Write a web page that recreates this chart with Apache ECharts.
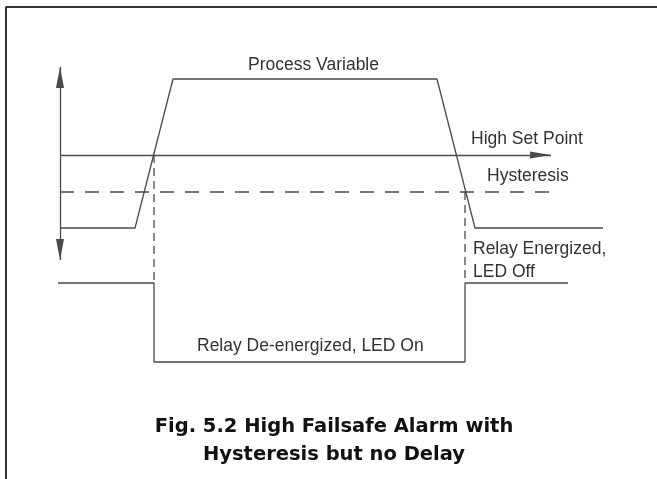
<!DOCTYPE html>
<html>
<head>
<meta charset="utf-8">
<script src="https://cdn.jsdelivr.net/npm/echarts@6/dist/echarts.min.js"></script>
<style>
html,body{margin:0;padding:0;background:#fff;}
#chart{width:657px;height:479px;}
</style>
</head>
<body>
<div id="chart"></div>
<script>
// Diagram units: time along x (0..657), level along y (0..479)
const frameTime  = [6, 6, 657];
const frameLevel = [0, 472, 472];

const pvTime  = [60, 135, 173, 437, 475, 603];
const pvLevel = [251, 251, 400, 400, 251, 251];

const relayTime  = [58, 154, 154, 465, 465, 568];
const relayLevel = [196, 196, 117, 117, 196, 196];

const setPointLevel = 324;
const setPointRange = [60, 551];

const hysteresisLevel = 287;
const hysteresisRange = [60, 552];

const switchOnTime = 154;   // PV crosses set point (relay de-energizes)
const switchOffTime = 465;  // PV crosses hysteresis (relay energizes)
const relayHighLevel = 196;

const axisTime = 60;
const axisRange = [219, 412];

const labels = {
  pv: 'Process Variable',
  sp: 'High Set Point',
  hy: 'Hysteresis',
  en1: 'Relay Energized,',
  en2: 'LED Off',
  de: 'Relay De-energized, LED On',
  t1: 'Fig. 5.2 High Failsafe Alarm with',
  t2: 'Hysteresis but no Delay'
};

const zip = (xs, ys) => xs.map((x, i) => [x, ys[i]]);

const LINE = '#4a4a4a';
const labelFont = '17.5px "Liberation Sans", Arial, sans-serif';
const titleFont = 'bold 19.5px "DejaVu Sans", sans-serif';

function lineSeries(name, data, style) {
  return {
    name, type: 'line', data, symbol: 'none', showSymbol: false, silent: true,
    animation: false,
    lineStyle: Object.assign({ color: LINE, width: 1.3 }, style || {})
  };
}

const chart = echarts.init(document.getElementById('chart'));
chart.setOption({
  animation: false,
  grid: { left: 0, right: 0, top: 0, bottom: 0 },
  xAxis: { type: 'value', min: 0, max: 657, show: false },
  yAxis: { type: 'value', min: 0, max: 479, show: false },
  series: [
    lineSeries('frame', zip(frameTime, frameLevel), { color: '#333', width: 2 }),
    lineSeries('Process Variable', zip(pvTime, pvLevel)),
    lineSeries('Relay', zip(relayTime, relayLevel)),
    lineSeries('Hysteresis', zip(hysteresisRange, [hysteresisLevel, hysteresisLevel]), { type: [14, 11] }),
    lineSeries('switchOn', [[switchOnTime, setPointLevel], [switchOnTime, relayHighLevel]], { type: [8, 5] }),
    lineSeries('switchOff', [[switchOffTime, hysteresisLevel], [switchOffTime, relayHighLevel]], { type: [8, 5] }),
    {
      name: 'arrows', type: 'line', data: [], silent: true, animation: false,
      markLine: {
        silent: true, animation: false,
        label: { show: false },
        emphasis: { disabled: true },
        itemStyle: { color: '#1a1a1a' },
        lineStyle: { color: LINE, width: 1.3, type: 'solid' },
        data: [
          [
            { coord: [axisTime, axisRange[0]], symbol: 'triangle', symbolSize: [8, 21], symbolOffset: [0, 10.5] },
            { coord: [axisTime, axisRange[1]], symbol: 'triangle', symbolSize: [8, 21], symbolOffset: [0, 10.5] }
          ],
          [
            { coord: [setPointRange[0], setPointLevel], symbol: 'none' },
            { coord: [setPointRange[1], setPointLevel], symbol: 'triangle', symbolSize: [7, 21], symbolOffset: [0, 10.5] }
          ]
        ]
      }
    }
  ],
  graphic: [
    { type: 'text', x: 248, y: 65.3, style: { text: labels.pv, font: labelFont, fill: '#333', textAlign: 'left', textVerticalAlign: 'middle' } },
    { type: 'text', x: 471, y: 139, style: { text: labels.sp, font: labelFont, fill: '#333', textAlign: 'left', textVerticalAlign: 'middle' } },
    { type: 'text', x: 487, y: 176.6, style: { text: labels.hy, font: labelFont, fill: '#333', textAlign: 'left', textVerticalAlign: 'middle' } },
    { type: 'text', x: 473, y: 249.6, style: { text: labels.en1, font: labelFont, fill: '#333', textAlign: 'left', textVerticalAlign: 'middle' } },
    { type: 'text', x: 473, y: 272.6, style: { text: labels.en2, font: labelFont, fill: '#333', textAlign: 'left', textVerticalAlign: 'middle' } },
    { type: 'text', x: 197, y: 346.6, style: { text: labels.de, font: labelFont, fill: '#333', textAlign: 'left', textVerticalAlign: 'middle' } },
    { type: 'text', x: 334, y: 427.2, style: { text: labels.t1, font: titleFont, fill: '#111', textAlign: 'center', textVerticalAlign: 'middle' } },
    { type: 'text', x: 334, y: 455.2, style: { text: labels.t2, font: titleFont, fill: '#111', textAlign: 'center', textVerticalAlign: 'middle' } }
  ]
});
</script>
</body>
</html>
